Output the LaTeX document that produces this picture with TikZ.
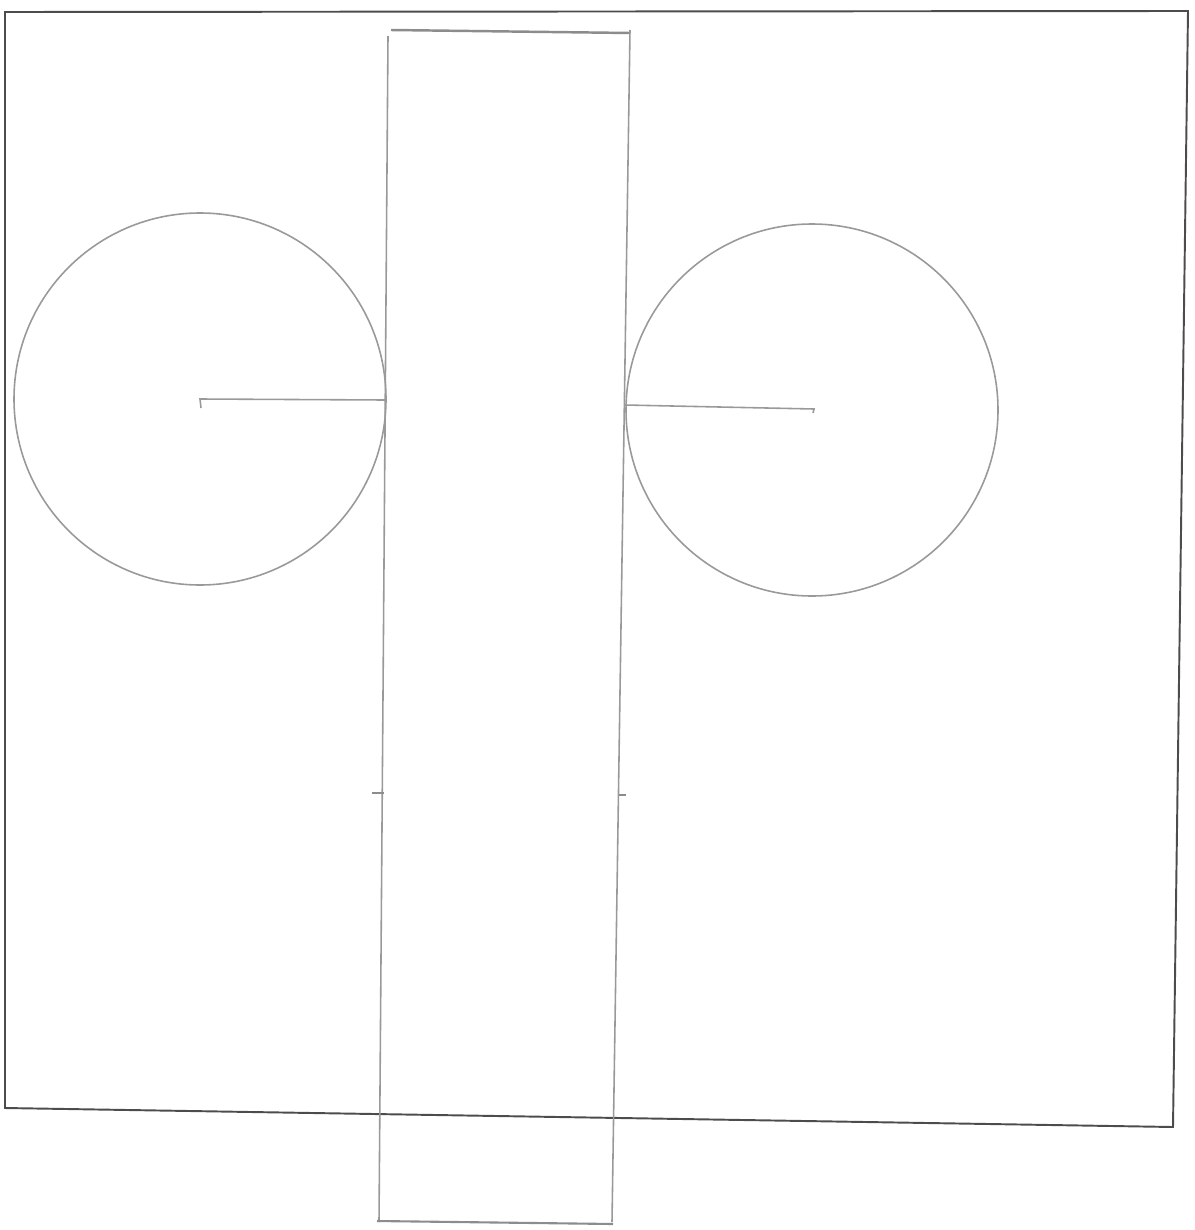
\documentclass[tikz,border=0pt]{standalone}
\usepackage{tikz}
\usetikzlibrary{calc}
\def\centercirc[#1](#2)(#3){\draw[#1] (#2) circle (#3);}

\begin{document}
\begin{tikzpicture}[x=0.01cm,y=-0.01cm]
			%%%%% START %%%%%
			\useasboundingbox (0,0) rectangle (1195,1230);
			
			\draw[line width=0.55pt, black!70] (5, 12) -- (1188, 11) -- (1173, 1127) -- (5, 1108) -- cycle;
			
			\draw[line width=0.7pt, black!45] (391, 30) -- (630, 33);
			\draw[line width=0.45pt, black!40] (388, 36) -- (379, 1222);
			\draw[line width=0.45pt, black!40] (630, 30) -- (612, 1222);
			\draw[line width=0.6pt, black!45] (377, 1221) -- (613, 1224);
			
			\draw[line width=0.4pt, black!45] (372, 793) -- (384, 793);
			\draw[line width=0.4pt, black!45] (619, 795) -- (626, 795);
			
			\coordinate (lc) at (200, 399);
			\centercirc[line width=0.45pt, black!40](lc)(186)
			\draw[line width=0.45pt, black!40] (201, 408) -- (lc) -- (385, 400);
			
			\coordinate (rc) at (812, 410);
			\centercirc[line width=0.45pt, black!40](rc)(186)
			\draw[line width=0.45pt, black!40] (625, 405) -- (814, 409) -- (813, 413);
			%%%%% END %%%%%
\end{tikzpicture}
\end{document}
